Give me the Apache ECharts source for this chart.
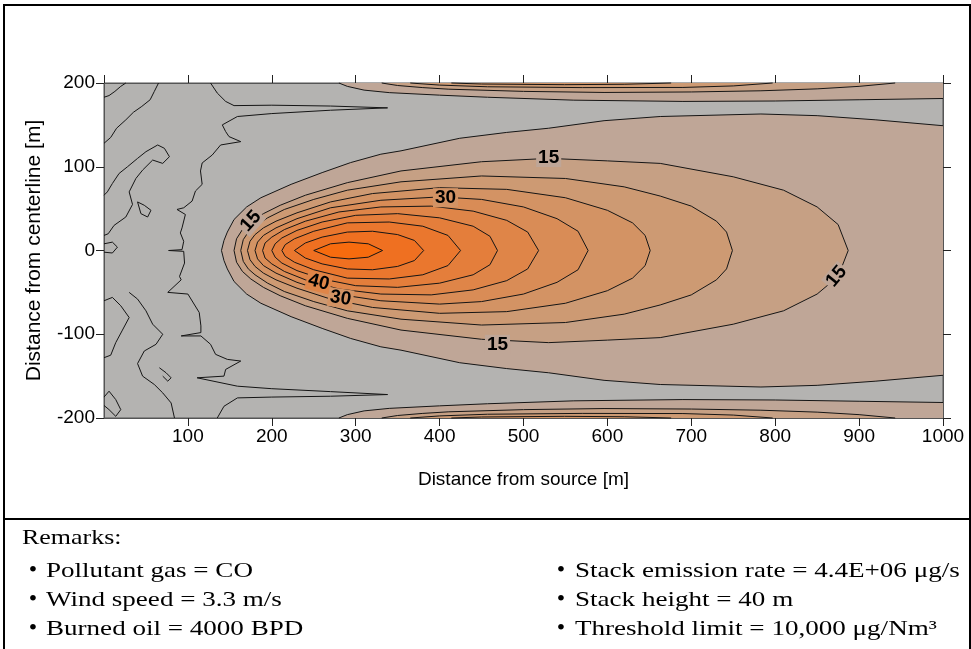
<!DOCTYPE html>
<html>
<head>
<meta charset="utf-8">
<script src="https://cdn.jsdelivr.net/npm/echarts@6/dist/echarts.min.js"></script>
<style>
html, body { margin: 0; padding: 0; background: #fff; }
#chart-container { width: 971px; height: 649px; }
</style>
</head>
<body>
<div id="chart-container"></div>
<script>
var dom = document.getElementById('chart-container');
var myChart = echarts.init(dom, null, { renderer: 'canvas' });

// contour levels, lowest first (grey below the first one)
var levels = [10, 15, 20, 25, 30, 35, 40, 45, 50, 55];
var bandColors = ['#b4b3b1', '#bfa697', '#c6a084', '#cd9a73', '#d39364', '#d98c56',
                  '#df8548', '#e47e3b', '#ea772e', '#ef7021', '#f76b0e'];

// plume contours: downwind distance [m] and half width [m] (plume is symmetric about y = 0)
// 10 is open to the right edge
var c10x = [140, 143, 147, 155, 170, 187, 223, 260, 294, 330, 354, 424, 480, 530, 596, 663, 783, 850, 920, 1000];
var c10w = [0, 12, 22, 37, 52, 63, 79, 93, 105, 115, 119, 134, 141, 146, 155, 160, 163, 161, 156, 149];
var c15x = [155, 158, 165, 175, 190, 210, 240, 290, 354, 450, 530, 600, 663, 750, 810, 850, 875, 887];
var c15w = [0, 14, 25, 34, 44, 54, 66, 81, 95, 106, 110, 107, 104, 88, 72, 52, 31, 0];
var c20x = [163, 166, 172, 180, 195, 215, 250, 290, 354, 450, 550, 620, 663, 700, 730, 742, 749];
var c20w = [0, 13, 22, 29, 39, 49, 61, 72, 82, 89, 86, 76, 65, 53, 35, 22, 0];
var c25x = [171, 174, 180, 190, 205, 230, 270, 320, 400, 480, 550, 600, 630, 645, 651];
var c25w = [0, 11, 19, 27, 35, 45, 58, 68, 75, 73, 63, 48, 33, 18, 0];
var c30x = [180, 183, 190, 205, 230, 270, 330, 400, 450, 500, 540, 565, 577];
var c30w = [0, 10, 18, 27, 38, 51, 60, 64, 61, 52, 38, 23, 0];
var c35x = [189, 192, 200, 215, 240, 280, 330, 390, 440, 480, 505, 518];
var c35w = [0, 9, 16, 25, 35, 46, 52, 53, 47, 36, 22, 0];
var c40x = [200, 204, 212, 230, 260, 300, 350, 400, 440, 460, 469];
var c40w = [0, 8, 15, 24, 34, 42, 44, 39, 29, 17, 0];
var c45x = [212, 216, 227, 250, 290, 340, 380, 410, 425];
var c45w = [0, 7, 14, 23, 33, 34, 29, 18, 0];
var c50x = [227, 240, 260, 290, 320, 350, 370, 381];
var c50w = [0, 9, 16, 22, 23, 19, 12, 0];
var c55x = [250, 270, 292, 315, 332];
var c55w = [0, 8, 10, 8, 0];

// band along the top edge (the bottom edge band mirrors it)
var edge10x = [280, 290, 310, 340, 400, 457, 560, 690, 800, 900, 1000];
var edge10y = [200, 196, 191.5, 188.5, 185.5, 183, 179.5, 178, 178.5, 180, 181.5];
var edge15x = [331, 350, 380, 411, 500, 596, 700, 783, 850, 900, 943];
var edge15y = [200, 197, 194.5, 192.6, 190, 188.7, 189.3, 190.7, 193, 196, 200];
var edge20x = [365, 400, 457, 570, 690, 750, 797];
var edge20y = [200, 197.5, 195.5, 194.5, 194.7, 196.5, 200];
var edge25x = [414, 450, 549, 620, 676];
var edge25y = [200, 198.8, 198, 198.5, 200];

// low-level line in the near field, with its two spikes
var nearLine = [[127, 200], [135, 188], [145, 178], [155, 173], [200, 173.5], [270, 172.5], [338, 170.3],
  [270, 167.5], [200, 163.5], [159, 160], [141, 150], [145, 142], [149, 136], [163, 130], [139, 126],
  [129, 114], [117, 104.5], [115, 95], [117, 79], [109, 71], [105, 59], [95, 51], [87, 49], [97, 43],
  [93, 27], [91, 21], [95, 11], [93, 1], [77, 0], [95, -1], [96, -15], [90, -31], [92, -35], [76, -50],
  [100, -52], [113.5, -74], [115.5, -90], [115.5, -98], [92, -102], [115.5, -102], [127, -112],
  [133, -124], [147, -130], [163, -132], [145, -142], [143, -150], [111, -152], [159, -162],
  [200, -165], [270, -168.5], [338, -172], [270, -174], [200, -175], [159, -176], [143, -186], [135, -200]];
var nearNoise = [
  [[0, 183], [6, 185], [13, 190], [20, 196], [26, 200]],
  [[0, 128], [8, 135], [15, 146], [26, 156], [35, 165], [45, 172], [55, 180], [60, 190], [65, 200]],
  [[0, 18], [5, 20], [12, 30], [26, 40], [34, 55], [30, 70], [38, 86], [46, 96], [58, 108], [70, 104],
   [78, 112], [72, 122], [64, 126], [50, 118], [40, 110], [28, 100], [18, 92], [10, 80], [4, 70], [0, 66]],
  [[40, 58], [48, 54], [56, 48], [52, 40], [44, 44], [40, 58]],
  [[0, 8], [10, 10], [16, 4], [10, -3], [0, -2]],
  [[0, -60], [10, -56], [20, -66], [30, -80], [22, -95], [14, -110], [8, -125], [0, -128]],
  [[30, -50], [40, -58], [50, -72], [58, -88], [70, -100], [62, -112], [48, -120], [40, -135], [46, -150],
   [60, -160], [70, -170], [80, -182], [84, -200]],
  [[0, -175], [6, -168], [14, -178], [20, -190], [14, -198], [6, -190], [0, -185]],
  [[66, -140], [74, -146], [80, -152], [76, -156], [70, -150]]
];

// inline contour labels
var labelText = ['15', '15', '30', '40', '30', '15', '15'];
var labelX = [175, 530, 407, 256, 282, 469, 873];
var labelY = [35, 111, 63, -38, -57, -112, -31];
var labelAngle = [48, 0, 0, -14, -9, 0, 50];
var labelLevel = [15, 15, 30, 40, 30, 15, 15];

// remarks under the chart
var remarksLeft = ['Pollutant gas = CO', 'Wind speed = 3.3 m/s', 'Burned oil = 4000 BPD'];
var remarksRight = ['Stack emission rate = 4.4E+06 μg/s', 'Stack height = 40 m', 'Threshold limit = 10,000 μg/Nm³'];

function pairs(xs, ys) {
    return xs.map(function (x, i) { return [x, ys[i]]; });
}
function mirror(pts) {
    return pts.map(function (p) { return [p[0], -p[1]]; });
}
function plumeRing(xs, ws) {
    var upper = pairs(xs, ws);
    var lower = mirror(upper).reverse();
    return upper.concat(lower);
}

var series = [];
function shape(points, kind, fill, z) {
    series.push({
        type: 'custom',
        coordinateSystem: 'cartesian2d',
        silent: true,
        animation: false,
        z: z,
        data: points,
        renderItem: function (params, api) {
            if (params.dataIndex !== 0) return;
            var pts = points.map(function (p) { return api.coord(p); });
            if (kind === 'fill') {
                return { type: 'polygon', shape: { points: pts }, style: { fill: fill } };
            }
            return { type: 'polyline', shape: { points: pts },
                     style: { fill: null, stroke: '#151515', lineWidth: 1 } };
        }
    });
}

var plume = [
    [c10x, c10w], [c15x, c15w], [c20x, c20w], [c25x, c25w], [c30x, c30w],
    [c35x, c35w], [c40x, c40w], [c45x, c45w], [c50x, c50w], [c55x, c55w]
];
var edge = [[edge10x, edge10y], [edge15x, edge15y], [edge20x, edge20y], [edge25x, edge25y]];

// fills, lowest level first
plume.forEach(function (c, i) {
    shape(plumeRing(c[0], c[1]), 'fill', bandColors[i + 1], 2);
});
edge.forEach(function (c, i) {
    var top = pairs(c[0], c[1]);
    var last = top[top.length - 1];
    if (last[1] < 200) top.push([last[0], 200]);
    shape(top, 'fill', bandColors[i + 1], 2);
    shape(mirror(top), 'fill', bandColors[i + 1], 2);
});

// contour lines
plume.forEach(function (c, i) {
    var ring = plumeRing(c[0], c[1]);
    if (i === 0) {
        var upper = pairs(c[0], c[1]);
        shape(upper.slice().reverse().concat(mirror(upper)), 'line', null, 3);
    } else {
        shape(ring.concat([ring[0]]), 'line', null, 3);
    }
});
edge.forEach(function (c) {
    var top = pairs(c[0], c[1]);
    shape(top, 'line', null, 3);
    shape(mirror(top), 'line', null, 3);
});
shape(nearLine, 'line', null, 3);
nearNoise.forEach(function (n) { shape(n, 'line', null, 3); });

// labels
series.push({
    type: 'custom',
    coordinateSystem: 'cartesian2d',
    silent: true,
    animation: false,
    z: 4,
    data: pairs(labelX, labelY),
    renderItem: function (params, api) {
        var i = params.dataIndex;
        var p = api.coord([api.value(0), api.value(1)]);
        return {
            type: 'text',
            x: p[0], y: p[1],
            rotation: labelAngle[i] * Math.PI / 180,
            style: {
                text: labelText[i],
                font: 'bold 19px "Liberation Sans", Arial, sans-serif',
                fill: '#000',
                align: 'center',
                verticalAlign: 'middle',
                backgroundColor: bandColors[levels.indexOf(labelLevel[i])],
                padding: [0, 2]
            }
        };
    }
});

var sans = '"Liberation Sans", Arial, sans-serif';
var serif = '"Liberation Serif", "Times New Roman", serif';
var tickFont = { fontFamily: sans, fontSize: 19, color: '#000' };

function frameAxis(pos, isX) {
    var a = {
        type: 'value', position: pos,
        axisLine: { show: true, onZero: false, lineStyle: { color: '#555' } },
        axisTick: { show: true, length: 8, lineStyle: { color: '#222' } },
        axisLabel: { show: false },
        splitLine: { show: false }
    };
    if (isX) { a.min = 0; a.max = 1000; a.interval = 100; }
    else { a.min = -200; a.max = 200; a.interval = 100; }
    return a;
}

var xMain = frameAxis('bottom', true);
xMain.name = 'Distance from source [m]';
xMain.nameLocation = 'middle';
xMain.nameGap = 52;
xMain.nameTextStyle = { fontFamily: sans, fontSize: 19, color: '#000' };
xMain.axisLabel = Object.assign({ show: true, showMinLabel: false, margin: 9,
    formatter: function (v) { return String(v); } }, tickFont);

var yMain = frameAxis('left', false);
yMain.name = 'Distance from centerline [m]';
yMain.nameLocation = 'middle';
yMain.nameGap = 59;
yMain.nameTextStyle = { fontFamily: sans, fontSize: 21, color: '#000' };
yMain.axisLabel = Object.assign({ show: true, margin: 9 }, tickFont);

var remarkFont = '22px ' + serif;
var graphics = [
    { type: 'rect', z: 100, shape: { x: 4, y: 5, width: 966, height: 660 },
      style: { fill: null, stroke: '#000', lineWidth: 2 } },
    { type: 'line', z: 100, shape: { x1: 4, y1: 519, x2: 971, y2: 519 },
      style: { stroke: '#000', lineWidth: 2 } },
    { type: 'text', x: 22, y: 538, scaleX: 1.18,
      style: { text: 'Remarks:', font: remarkFont, fill: '#000', verticalAlign: 'middle' } }
];
function addRemarks(list, bulletX, textX) {
    list.forEach(function (t, i) {
        var y = 571 + i * 29;
        graphics.push({ type: 'text', x: bulletX, y: y,
            style: { text: '•', font: '24px ' + serif, fill: '#000', align: 'center', verticalAlign: 'middle' } });
        graphics.push({ type: 'text', x: textX, y: y, scaleX: 1.23,
            style: { text: t, font: remarkFont, fill: '#000', verticalAlign: 'middle' } });
    });
}
addRemarks(remarksLeft, 33, 46);
addRemarks(remarksRight, 561, 575);

var option = {
    backgroundColor: '#fff',
    animation: false,
    grid: { left: 104, right: 28, top: 83, bottom: 231, show: true,
            backgroundColor: bandColors[0], borderColor: '#555', borderWidth: 1 },
    xAxis: [xMain, frameAxis('top', true)],
    yAxis: [yMain, frameAxis('right', false)],
    graphic: graphics,
    series: series
};

if (option && typeof option === 'object') {
    myChart.setOption(option);
}

window.addEventListener('resize', myChart.resize);
</script>
</body>
</html>
